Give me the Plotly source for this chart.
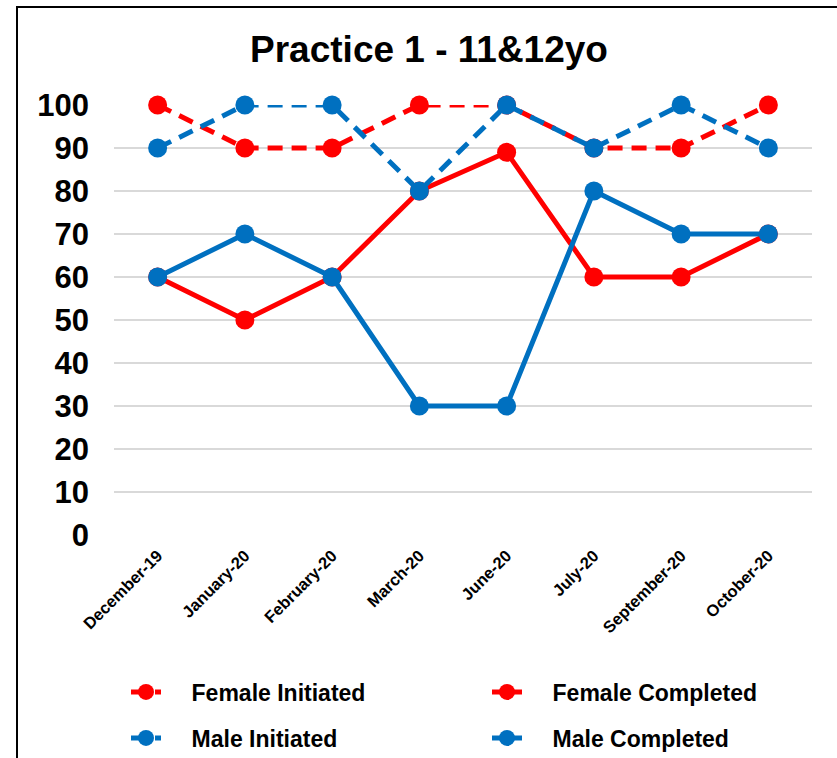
import plotly.graph_objects as go

months = ["December-19", "January-20", "February-20", "March-20",
          "June-20", "July-20", "September-20", "October-20"]
female_initiated = [100, 90, 90, 100, 100, 90, 90, 100]
female_completed = [60, 50, 60, 80, 89, 60, 60, 70]
male_initiated = [90, 100, 100, 80, 100, 90, 100, 90]
male_completed = [60, 70, 60, 30, 30, 80, 70, 70]
y_ticks = [0, 10, 20, 30, 40, 50, 60, 70, 80, 90, 100]

RED = "#FF0000"
BLUE = "#0070C0"
FONT = "Liberation Sans, Arial, sans-serif"
PAD = "\u00a0" * 4  # gap between legend symbol and label

W, H = 837, 758
L, R, T, B = 114, 25, 105, 223
pw, ph = W - L - R, H - T - B

def px_x(p):
    return (p - L) / pw

def px_y(p):
    return (H - B - p) / ph

# name, values, colour, dash, width, legend id, legend entry position (px)
series = [
    ("Female Initiated", female_initiated, RED, "15px,9px", 5, "legend", (126, 692)),
    ("Female Completed", female_completed, RED, "solid", 5, "legend2", (487, 692)),
    ("Male Initiated", male_initiated, BLUE, "15px,9px", 5, "legend3", (126, 738)),
    ("Male Completed", male_completed, BLUE, "solid", 5, "legend4", (487, 738)),
]

legend_style = dict(orientation="v", xanchor="left", yanchor="middle",
                    font=dict(size=23, family=FONT, color="black", weight="bold"),
                    bgcolor="rgba(0,0,0,0)", borderwidth=0)

fig = go.Figure()
legends = {}
for name, vals, color, dash, width, leg, (lx, ly) in series:
    fig.add_trace(go.Scatter(
        x=months, y=vals, name=PAD + name, mode="lines+markers",
        line=dict(color=color, width=width, dash=dash),
        marker=dict(color=color, size=19, symbol="circle"),
        cliponaxis=False, legend=leg,
    ))
    legends[leg] = dict(x=px_x(lx), y=px_y(ly), **legend_style)

fig.update_layout(
    width=W, height=H,
    margin=dict(l=L, r=R, t=T, b=B, autoexpand=False),
    paper_bgcolor="white", plot_bgcolor="white",
    font=dict(family=FONT, color="black"),
    title=dict(text="<b>Practice 1 - 11&12yo</b>", x=429 / W, xanchor="center",
               xref="container", y=1 - 49 / H, yanchor="middle",
               font=dict(size=37, family=FONT, color="black")),
    showlegend=True,
    xaxis=dict(type="category", showgrid=False, zeroline=False, showline=False,
               ticks="", tickangle=-45, ticklabelstandoff=7,
               tickfont=dict(size=16.5, family=FONT, color="black", weight="bold"),
               range=[-0.5, len(months) - 0.5]),
    yaxis=dict(range=[0, 100], tickvals=y_ticks, showgrid=True,
               gridcolor="#D9D9D9", gridwidth=1.5, zeroline=False, showline=False,
               ticks="", ticklabelstandoff=24,
               tickfont=dict(size=31, family=FONT, color="black", weight="bold")),
    shapes=[dict(type="rect", xref="paper", yref="paper",
                 x0=px_x(17), x1=px_x(900), y0=px_y(820), y1=px_y(7),
                 line=dict(color="black", width=2), fillcolor="rgba(0,0,0,0)",
                 layer="below")],
    **legends,
)

fig.write_html("out.html")
